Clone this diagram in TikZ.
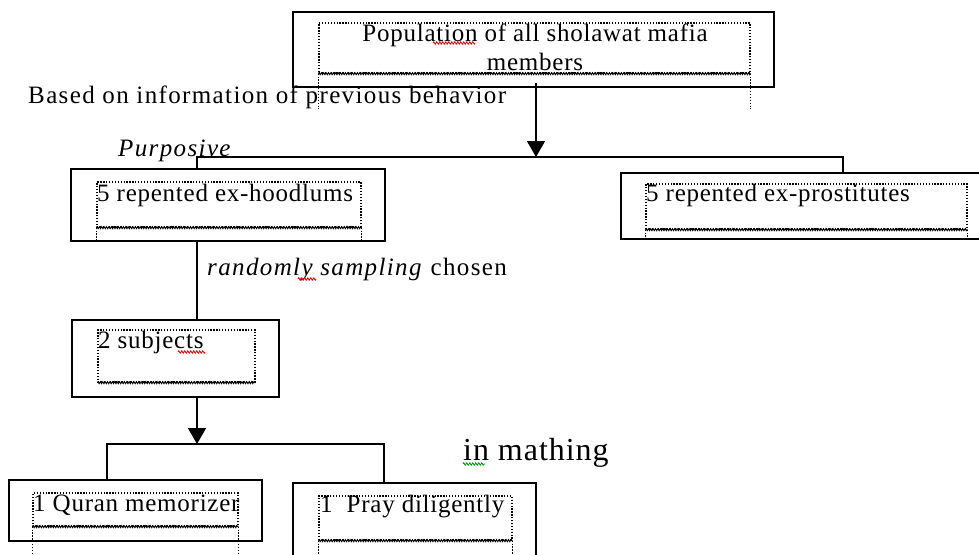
\documentclass[tikz,border=0pt]{standalone}
\usepackage{fontspec}
\setmainfont{Liberation Serif}[LetterSpace=3]
\usetikzlibrary{arrows.meta,positioning,calc,decorations.pathmorphing}

\begin{document}
\begin{tikzpicture}[
  x=1pt, y=-1pt,
  font=\fontsize{25}{29}\selectfont,
  >=Triangle,
  box/.style={draw, line width=1.8pt, inner sep=0pt},
  inbox/.style={draw, line width=1.3pt, dash pattern=on 1.3pt off 1.6pt, inner sep=0pt},
  ext/.style={line width=1.3pt, dash pattern=on 1.3pt off 1.6pt},
  wavy/.style={line width=0.9pt, decorate, decoration={zigzag, amplitude=1pt, segment length=2.4pt}},
  line/.style={line width=1.6pt},
  arrow/.style={-{Triangle[width=18pt,length=16pt]}, line width=1.6pt},
  note/.style={inner sep=0pt, anchor=west},
  widenote/.style={note, font=\fontsize{25}{29}\selectfont\addfontfeature{LetterSpace=5.5}},
  squiggle/.style={line width=0.8pt, decorate, decoration={zigzag, amplitude=1.2pt, segment length=3pt}}
]
\useasboundingbox (0,0) rectangle (979,554);

% ----- POPULATION BOX -----
\node[box, minimum width=481pt, minimum height=75pt] (pop) at (533.5,49.5) {};
\node[inbox, minimum width=431pt, minimum height=50pt] (popin) at (534.5,48) {};
\node[inner sep=0pt, align=center] (poptxt) at (535,47.5) {Population of all sholawat mafia\\members};
\draw[wavy] (popin.south west) -- (popin.south east);
\draw[ext] (popin.south west) -- ++(0,35);
\draw[ext] (popin.south east) -- ++(0,35);

% ----- FIRST SPLIT -----
\node[box, minimum width=314pt, minimum height=72pt] (hood) at (228,205) {};
\node[inbox, minimum width=264pt, minimum height=45pt] (hoodin) at (229,204.5) {};
\node[note] (hoodtxt) at (97,195) {5 repented ex-hoodlums};
\draw[wavy] (hoodin.south west) -- (hoodin.south east);
\draw[ext] (hoodin.south west) -- (hoodin.south west |- hood.south);
\draw[ext] (hoodin.south east) -- (hoodin.south east |- hood.south);

\node[box, minimum width=370pt, minimum height=66pt] (pros) at (806,206) {};
\node[inbox, minimum width=321pt, minimum height=45pt] (prosin) at (806.5,206.5) {};
\node[note] (prostxt) at (646,195) {5 repented ex-prostitutes};
\draw[wavy] (prosin.south west) -- (prosin.south east);
\draw[ext] (prosin.south west) -- (prosin.south west |- pros.south);
\draw[ext] (prosin.south east) -- (prosin.south east |- pros.south);

% ----- SUBJECTS BOX -----
\node[box, minimum width=207pt, minimum height=77pt] (subj) at (175.5,358.5) {};
\node[inbox, minimum width=157pt, minimum height=52pt] (subjin) at (176.5,356) {};
\node[note] (subjtxt) at (98,342) {2 subjects};
\draw[wavy] (subjin.south west) -- (subjin.south east);

% ----- SECOND SPLIT -----
\node[box, minimum width=253pt, minimum height=61pt] (quran) at (135.5,510.5) {};
\node[inbox, minimum width=205pt, minimum height=33pt] (quranin) at (135.5,509.5) {};
\node[note] (qurantxt) at (33,505) {1 Quran memorizer};
\draw[wavy] (quranin.south west) -- (quranin.south east);
\draw[ext] (quranin.south west) -- ++(0,30);
\draw[ext] (quranin.south east) -- ++(0,30);

\node[box, minimum width=243pt, minimum height=87pt] (pray) at (414.5,526.5) {};
\node[inbox, minimum width=193pt, minimum height=44pt] (prayin) at (415.5,518) {};
\node[note] (praytxt) at (320,507) {1~~Pray diligently};
\draw[wavy] (prayin.south west) -- (prayin.south east);
\draw[ext] (prayin.south west) -- ++(0,16);
\draw[ext] (prayin.south east) -- ++(0,16);

% ----- LABELS -----
\node[widenote] (based) at (28,97) {Based on information of previous behavior};
\node[widenote] (purp) at (118,151) {\itshape Purposive};
\node[widenote] (rand) at (207,270) {\textit{randomly sampling} chosen};
\node[note, font=\fontsize{32}{37}\selectfont] (math) at (463,453) {in mathing};

% ----- CONNECTIONS -----
\coordinate (j1) at (536,157);
\coordinate (bar1l) at (197,157);
\coordinate (bar1r) at (843,157);
\coordinate (j2) at (197,444);
\coordinate (bar2l) at (107,444);
\coordinate (bar2r) at (384,444);

\draw[arrow] ([yshift=5pt]pop.south -| j1) -- (j1);
\draw[line] (hood.north -| bar1l) -- (bar1l) -- (bar1r) -- (pros.north -| bar1r);
\draw[line] (hood.south -| bar1l) -- (subj.north -| bar1l);
\draw[arrow] (subj.south -| j2) -- (j2);
\draw[line] (quran.north -| bar2l) -- (bar2l) -- (bar2r) -- (pray.north -| bar2r);

% ----- SPELL-CHECK MARKS -----
\draw[squiggle, red] (433,43) -- (475,43);
\draw[squiggle, red] (298,279) -- (316,279);
\draw[squiggle, red] (178,352) -- (205,352);
\draw[squiggle, green!60!black] (463,464) -- (485,464);

\end{tikzpicture}
\end{document}
